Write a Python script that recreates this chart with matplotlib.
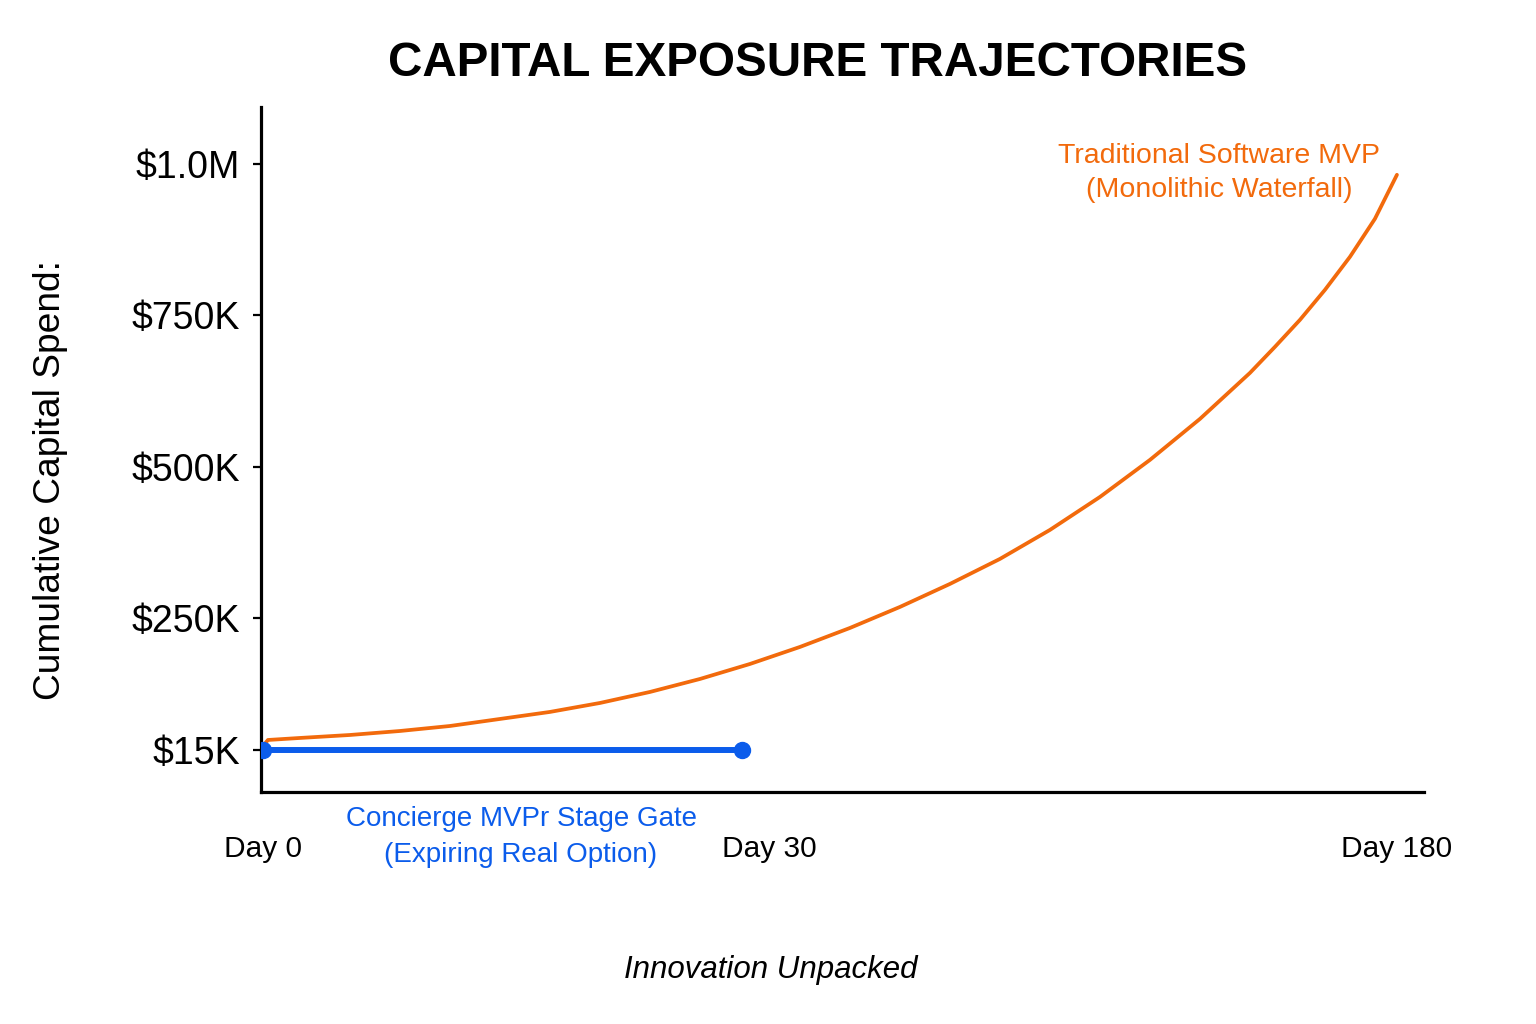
import numpy as np
import matplotlib
matplotlib.use("Agg")
import matplotlib.pyplot as plt
from matplotlib.transforms import ScaledTranslation

# ---------------- data ----------------
traditional_days = [0, 0.31, 2.32, 5.45, 8.58, 11.71, 14.84, 17.97, 21.11, 24.24, 27.37,
                    31.83, 43.28, 54.73, 66.18, 77.63, 89.08, 100.53, 111.99, 123.44,
                    134.89, 146.34, 152.06, 157.79, 163.51, 169.24, 174.96, 180]
traditional_spend = [22100, 32800, 36400, 41700, 48800, 57700, 70200, 82700, 98700,
                     118300, 141400, 168100, 198400, 232200, 268200, 306200, 347500,
                     395400, 449900, 511100, 578800, 654800, 697800, 742400, 791900,
                     846500, 909300, 982000]
concierge_days = [0, 30]
concierge_spend = [15000, 15000]

x_ticks = [0, 30, 180]
x_tick_labels = ["Day 0", "Day 30", "Day 180"]
y_ticks = [15000, 250000, 500000, 750000, 1000000]
y_tick_labels = ["$15K", "$250K", "$500K", "$750K", "$1.0M"]

title = "CAPITAL EXPOSURE TRAJECTORIES"
y_title = "Cumulative Capital Spend:"
x_title = "Innovation Unpacked"
trad_label = "Traditional Software MVP\n(Monolithic Waterfall)"
conc_label = "Concierge MVPr Stage Gate\n(Expiring Real Option)"

ORANGE = "#F26A0C"
BLUE = "#0B5CEB"
FONT = ["Liberation Sans", "DejaVu Sans"]

# ---------------- scales (piecewise linear, as in the reference) ----------------
XB = 30.0
XK_LO, XK_HI = 479 / 30.0, 655 / 150.0


def xf(d):
    d = np.asarray(d, float)
    return np.where(d <= XB, d * XK_LO, XB * XK_LO + (d - XB) * XK_HI)


def xi(u):
    u = np.asarray(u, float)
    return np.where(u <= XB * XK_LO, u / XK_LO, XB + (u - XB * XK_LO) / XK_HI)


YB = 250000.0
YK = 0.928


def yf(v):
    v = np.asarray(v, float)
    return np.where(v >= YB, v, YB - (YB - v) * YK)


def yi(u):
    u = np.asarray(u, float)
    return np.where(u >= YB, u, YB - (YB - u) / YK)


# ---------------- figure ----------------
fig = plt.figure(figsize=(15.36, 10.24), dpi=100)
fig.patch.set_facecolor("white")
ax = fig.add_axes([261 / 1536, 1 - 792 / 1024, (1424 - 261) / 1536, (792 - 107) / 1024])
ax.set_xscale("function", functions=(xf, xi))
ax.set_yscale("function", functions=(yf, yi))

ax.plot(traditional_days, traditional_spend, color=ORANGE, lw=2.7,
        solid_capstyle="round", solid_joinstyle="round", zorder=3)
ax.plot(concierge_days, concierge_spend, color=BLUE, lw=4.3, marker="o",
        markersize=11.5, solid_capstyle="round", zorder=4)

ax.set_xlim(-0.125, 186.2)
ax.set_ylim(-59800, 1094000)

for s in ["top", "right"]:
    ax.spines[s].set_visible(False)
for s in ["left", "bottom"]:
    ax.spines[s].set_linewidth(2.3)
    ax.spines[s].set_color("black")

ax.set_yticks(y_ticks)
ax.set_yticklabels(y_tick_labels, fontsize=27, family=FONT)
ax.tick_params(axis="y", length=6, width=1.6, pad=9, colors="black")
ax.minorticks_off()

ax.set_xticks(x_ticks)
ax.set_xticklabels(x_tick_labels, fontsize=21.5, family=FONT)
ax.tick_params(axis="x", length=0, pad=31, colors="black")
# Day 30 label sits a little right of the gate end-point in the reference
lbl = ax.get_xticklabels()[1]
lbl.set_transform(lbl.get_transform() + ScaledTranslation(27 / 100, 0, fig.dpi_scale_trans))

fig.text(818 / 1536, 1 - 63 / 1024, title, ha="center", va="center", fontsize=34.3,
         fontweight="bold", family=FONT)
fig.text(51 / 1536, 1 - 480 / 1024, y_title, ha="center", va="center", rotation=90,
         fontsize=26.7, family=FONT)
fig.text(771 / 1536, 1 - 970 / 1024, x_title, ha="center", va="center", fontsize=22.5,
         style="italic", family=FONT)

fig.text(1219 / 1536, 1 - 173 / 1024, trad_label, ha="center", va="center", fontsize=20.5,
         color=ORANGE, linespacing=1.4, family=FONT)
fig.text(521 / 1536, 1 - 837 / 1024, conc_label, ha="center", va="center", fontsize=20,
         color=BLUE, linespacing=1.45, family=FONT)

fig.savefig("out.png", dpi=100, facecolor="white")
